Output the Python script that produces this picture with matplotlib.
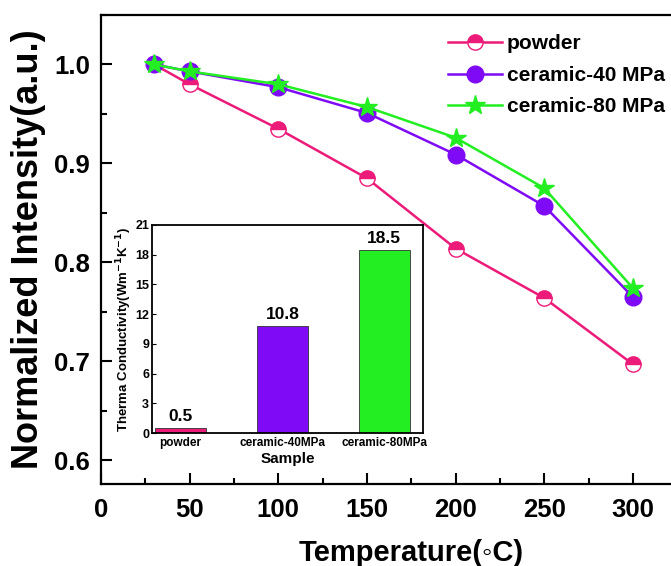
import matplotlib
matplotlib.use("Agg")
import matplotlib.pyplot as plt
from matplotlib.ticker import MultipleLocator

plt.rcParams['font.family'] = ['Liberation Sans', 'DejaVu Sans']
plt.rcParams['font.weight'] = 'bold'

temps = [30, 50, 100, 150, 200, 250, 300]
powder = [1.000, 0.980, 0.935, 0.885, 0.814, 0.764, 0.697]
ceramic40 = [1.000, 0.993, 0.977, 0.951, 0.909, 0.857, 0.765]
ceramic80 = [1.000, 0.993, 0.980, 0.957, 0.926, 0.875, 0.774]

samples = ['powder', 'ceramic-40MPa', 'ceramic-80MPa']
conductivity = [0.5, 10.8, 18.5]

pink = '#EC1A78'
purple = '#7F0AF5'
green = '#22EE22'

W, H = 671, 566
fig = plt.figure(figsize=(W / 100, H / 100), dpi=100)

# main axes (extends beyond right edge like the cropped original)
ax = fig.add_axes([101 / W, 1 - 484 / H, 350 * 1.773 / W, (484 - 15) / H])
ax.plot(temps, powder, '-', color=pink, lw=1.8, marker='o', ms=11,
        fillstyle='top', markerfacecolor=pink, markerfacecoloralt='white',
        markeredgecolor=pink, markeredgewidth=1.0, label='powder')
ax.plot(temps, ceramic40, '-', color=purple, lw=1.8, marker='o', ms=12,
        markerfacecolor=purple, markeredgecolor=purple, label='ceramic-40 MPa')
ax.plot(temps, ceramic80, '-', color=green, lw=1.8, marker='*', ms=15,
        markerfacecolor=green, markeredgecolor=green, label='ceramic-80 MPa')

ax.set_xlim(0, 350)
ax.set_ylim(0.576, 1.05)
ax.set_xticks([0, 50, 100, 150, 200, 250, 300])
ax.set_yticks([0.6, 0.7, 0.8, 0.9, 1.0])
ax.xaxis.set_minor_locator(MultipleLocator(25))
ax.yaxis.set_minor_locator(MultipleLocator(0.05))
ax.tick_params(which='both', direction='in', width=1.5)
ax.tick_params(which='major', length=8, labelsize=18.5)
ax.tick_params(which='minor', length=4)
ax.tick_params(axis='x', which='major', pad=10)
ax.tick_params(axis='y', which='major', pad=8)
for lab in ax.get_xticklabels() + ax.get_yticklabels():
    lab.set_fontweight('bold')
for sp in ax.spines.values():
    sp.set_linewidth(1.6)
ax.set_xlabel('Temperature(◦C)', fontsize=21, fontweight='bold', labelpad=12)
ax.set_ylabel('Normalized Intensity(a.u.)', fontsize=26, fontweight='bold', labelpad=6)

leg = ax.legend(loc='upper left', bbox_to_anchor=(440 / W, 1 - 26 / H),
                bbox_transform=fig.transFigure, frameon=False,
                prop={'size': 15, 'weight': 'bold'}, handlelength=2.6,
                handletextpad=0.2, labelspacing=0.6, borderaxespad=0)

# inset bar chart
ins = fig.add_axes([152 / W, 1 - 433 / H, (423 - 152) / W, (433 - 225) / H])
xs = list(range(len(samples)))
bars = ins.bar(xs, conductivity, width=0.5,
               color=[pink, purple, green], edgecolor='#333333', linewidth=0.6)
for x, v in zip(xs, conductivity):
    ins.text(x, v + 0.4, f'{v}', ha='center', va='bottom',
             fontsize=12.5, fontweight='bold')
ins.set_xlim(-0.28, 2.38)
ins.set_ylim(0, 21)
ins.set_yticks(range(0, 22, 3))
ins.set_xticks(xs)
ins.set_xticklabels(samples)
ins.tick_params(axis='x', length=0, labelsize=8.5, pad=3)
ins.tick_params(axis='y', direction='in', length=3, labelsize=9, pad=2)
for lab in ins.get_xticklabels() + ins.get_yticklabels():
    lab.set_fontweight('bold')
for sp in ins.spines.values():
    sp.set_linewidth(1.3)
ins.set_xlabel('Sample', fontsize=11, fontweight='bold', labelpad=2)
ins.set_ylabel('Therma Conductivity(Wm$^{\\mathbf{-1}}$K$^{\\mathbf{-1}}$)',
               fontsize=9.5, fontweight='bold', labelpad=1)

fig.savefig('out.png', dpi=100)
